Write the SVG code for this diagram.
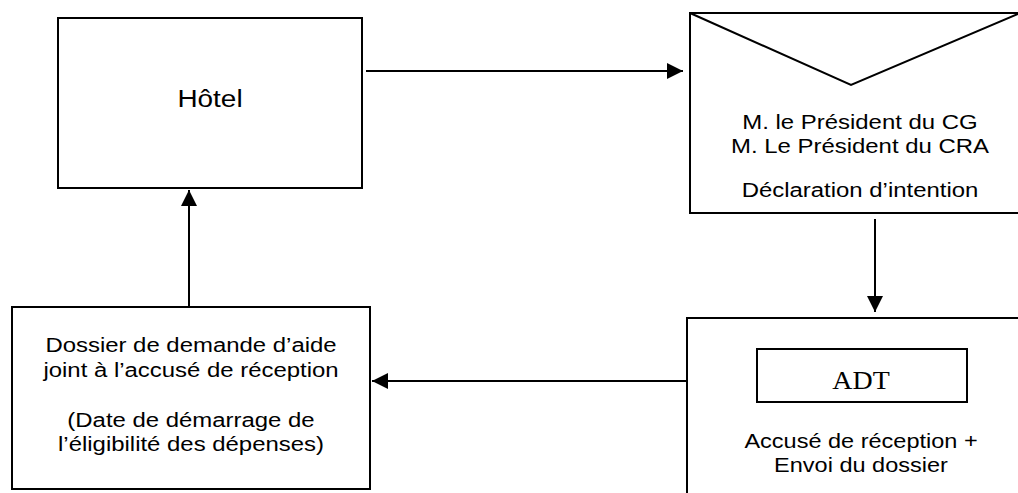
<svg xmlns="http://www.w3.org/2000/svg" width="1018" height="493" viewBox="0 0 1018 493">
<style>
.box{fill:#fff;stroke:#000;stroke-width:2}
.t{font-family:"Liberation Sans",Arial,sans-serif;font-size:21px;fill:#000;text-anchor:middle}
.big{font-size:24.5px}
.serif{font-family:"Liberation Serif","Times New Roman",serif;font-size:24.5px;fill:#000;text-anchor:middle}
.conn{stroke:#000;stroke-width:2;fill:none;marker-end:url(#arr)}
</style>
<defs>
<marker id="arr" markerUnits="userSpaceOnUse" markerWidth="16" markerHeight="16" refX="16" refY="8" orient="auto">
<path d="M0,0 L16,8 L0,16 z" fill="#000"/>
</marker>
</defs>
<rect width="1018" height="493" fill="#fff"/>
<g id="hotel">
<rect class="box" x="58" y="18" width="304" height="170"/>
<text class="t big" transform="translate(210,107) scale(1.14,1)">Hôtel</text>
</g>
<g id="envelope">
<rect class="box" x="690" y="13" width="340" height="200"/>
<polyline points="690,13 851,85 1018,14" fill="none" stroke="#000" stroke-width="2"/>
<text class="t" transform="translate(860,129) scale(1.14,1)">M. le Président du CG</text>
<text class="t" transform="translate(860,153) scale(1.14,1)">M. Le Président du CRA</text>
<text class="t" transform="translate(860,197) scale(1.14,1)">Déclaration d’intention</text>
</g>
<g id="adt">
<rect class="box" x="687" y="318" width="350" height="200"/>
<rect class="box" x="757" y="349" width="210" height="53"/>
<text class="serif" transform="translate(861,389) scale(1.14,1)">ADT</text>
<text class="t" transform="translate(861,448) scale(1.12,1)">Accusé de réception +</text>
<text class="t" transform="translate(861,472) scale(1.12,1)">Envoi du dossier</text>
</g>
<g id="dossier">
<rect class="box" x="12" y="307" width="358" height="182"/>
<text class="t" transform="translate(191,352) scale(1.14,1)">Dossier de demande d’aide</text>
<text class="t" transform="translate(191,377) scale(1.14,1)">joint à l’accusé de réception</text>
<text class="t" transform="translate(191,427) scale(1.14,1)">(Date de démarrage de</text>
<text class="t" transform="translate(191,451) scale(1.14,1)">l’éligibilité des dépenses)</text>
</g>
<g id="connectors">
<line class="conn" x1="366" y1="71" x2="683" y2="71"/>
<line class="conn" x1="875" y1="219" x2="875" y2="312"/>
<line class="conn" x1="686" y1="381" x2="372" y2="381"/>
<line class="conn" x1="189" y1="307" x2="189" y2="190"/>
</g>
</svg>
